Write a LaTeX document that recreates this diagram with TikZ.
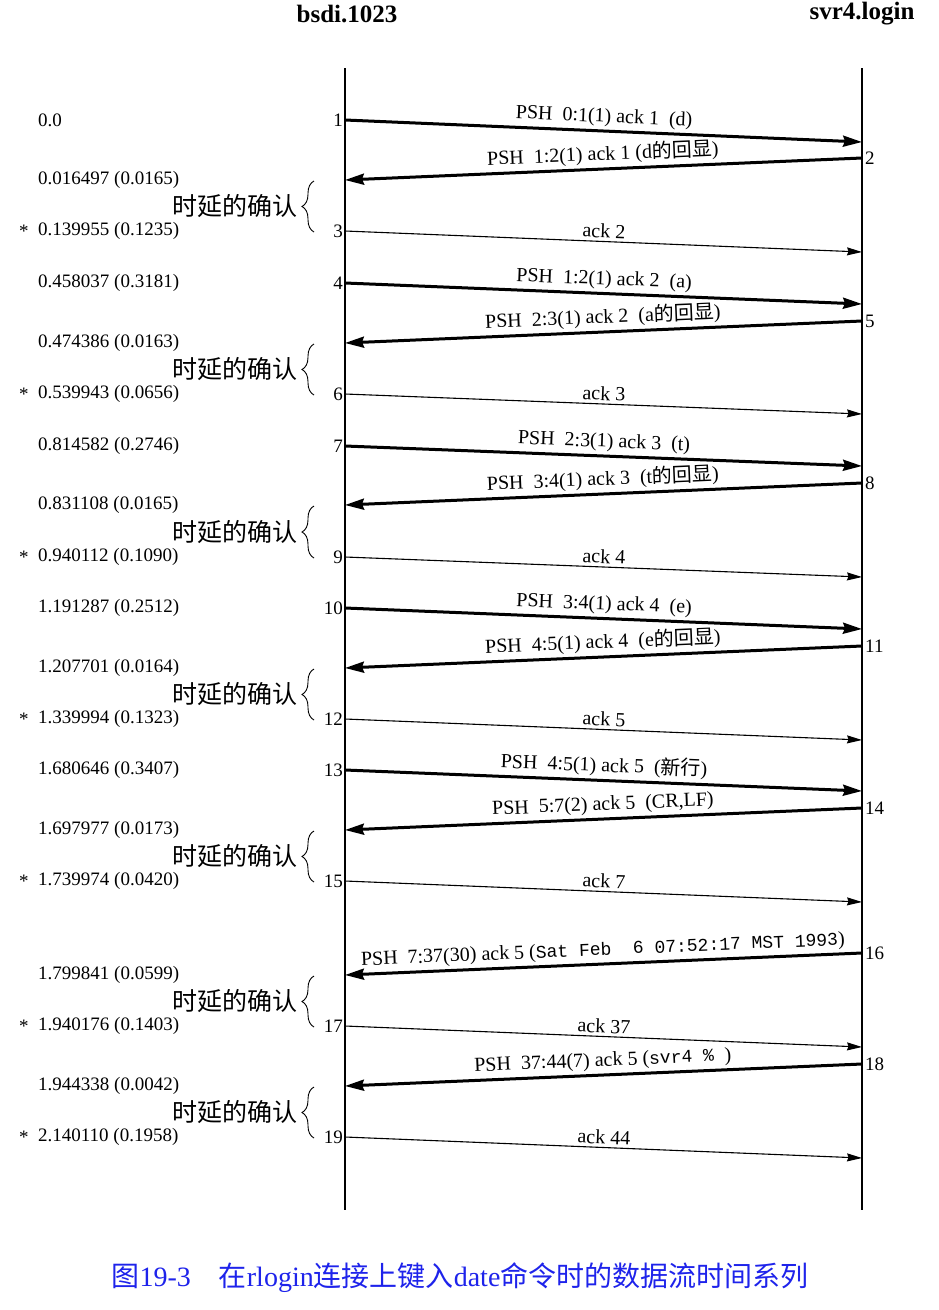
\documentclass[tikz,border=0pt]{standalone}
\usepackage{fontspec}
\setmainfont{Liberation Serif}
\setmonofont{Liberation Mono}
\newfontfamily\cjk{Noto Sans CJK SC}
\usetikzlibrary{arrows.meta,decorations.pathreplacing}
\definecolor{capblue}{RGB}{30,35,235}
\begin{document}
\begin{tikzpicture}[x=1pt,y=-1pt,
  lifeline/.style={line width=1.4pt},
  thickmsg/.style={line width=3pt,-{Stealth[length=19pt,width=11pt,inset=2pt]}},
  thinmsg/.style={line width=1.1pt,-{Stealth[length=15pt,width=8pt,inset=1.5pt]}},
  msglabel/.style={midway,above,sloped,inner sep=3pt,font=\fontsize{20}{22}\selectfont},
  timel/.style={anchor=west,inner sep=0pt,font=\fontsize{19}{21}\selectfont},
  starl/.style={anchor=west,inner sep=0pt,font=\fontsize{19}{21}\selectfont},
  segL/.style={anchor=east,inner sep=2pt,font=\fontsize{19}{21}\selectfont},
  segR/.style={anchor=west,inner sep=3pt,font=\fontsize{19}{21}\selectfont},
  delayl/.style={anchor=east,inner sep=0pt,font=\cjk\fontsize{25}{27}\selectfont},
  brc/.style={decorate,decoration={brace,amplitude=12pt},line width=0.9pt},
  hostl/.style={inner sep=0pt,font=\bfseries\fontsize{25}{27}\selectfont},
  caption/.style={inner sep=0pt,text=capblue,font=\fontsize{28}{30}\selectfont}
]
\useasboundingbox[fill=white] (0,0) rectangle (938,1310);

% hosts
\node[hostl] (hA) at (347,14) {bsdi.1023};
\node[hostl] (hB) at (862,14) {svr4.login};

% lifelines
\coordinate (LT) at (345,68); \coordinate (LB) at (345,1210);
\coordinate (RT) at (862,68); \coordinate (RB) at (862,1210);
\draw[lifeline] (LT) -- (LB);
\draw[lifeline] (RT) -- (RB);

% coordinates of segment ends
\coordinate (L1) at (345,120);  \coordinate (R1) at (862,142);
\coordinate (R2) at (862,158);  \coordinate (L2) at (345,180);
\coordinate (L3) at (345,231);  \coordinate (R3) at (862,252);
\coordinate (L4) at (345,283);  \coordinate (R4) at (862,304);
\coordinate (R5) at (862,321);  \coordinate (L5) at (345,343);
\coordinate (L6) at (345,394);  \coordinate (R6) at (862,414);
\coordinate (L7) at (345,446);  \coordinate (R7) at (862,466);
\coordinate (R8) at (862,483);  \coordinate (L8) at (345,505);
\coordinate (L9) at (345,557);  \coordinate (R9) at (862,577);
\coordinate (L10) at (345,608); \coordinate (R10) at (862,629);
\coordinate (R11) at (862,646); \coordinate (L11) at (345,668);
\coordinate (L12) at (345,719); \coordinate (R12) at (862,740);
\coordinate (L13) at (345,770); \coordinate (R13) at (862,791);
\coordinate (R14) at (862,808); \coordinate (L14) at (345,830);
\coordinate (L15) at (345,881); \coordinate (R15) at (862,902);
\coordinate (R16) at (862,953); \coordinate (L16) at (345,975);
\coordinate (L17) at (345,1026);\coordinate (R17) at (862,1047);
\coordinate (R18) at (862,1064);\coordinate (L18) at (345,1086);
\coordinate (L19) at (345,1137);\coordinate (R19) at (862,1158);

% messages
\draw[thickmsg] (L1) -- (R1) node[msglabel] (m1) {PSH\enspace 0:1(1) ack 1\enspace (d)};
\draw[thickmsg] (R2) -- (L2) node[msglabel] (m2) {PSH\enspace 1:2(1) ack 1 (d{\cjk 的回显})};
\draw[thinmsg]  (L3) -- (R3) node[msglabel] (m3) {ack 2};
\draw[thickmsg] (L4) -- (R4) node[msglabel] (m4) {PSH\enspace 1:2(1) ack 2\enspace (a)};
\draw[thickmsg] (R5) -- (L5) node[msglabel] (m5) {PSH\enspace 2:3(1) ack 2\enspace (a{\cjk 的回显})};
\draw[thinmsg]  (L6) -- (R6) node[msglabel] (m6) {ack 3};
\draw[thickmsg] (L7) -- (R7) node[msglabel] (m7) {PSH\enspace 2:3(1) ack 3\enspace (t)};
\draw[thickmsg] (R8) -- (L8) node[msglabel] (m8) {PSH\enspace 3:4(1) ack 3\enspace (t{\cjk 的回显})};
\draw[thinmsg]  (L9) -- (R9) node[msglabel] (m9) {ack 4};
\draw[thickmsg] (L10) -- (R10) node[msglabel] (m10) {PSH\enspace 3:4(1) ack 4\enspace (e)};
\draw[thickmsg] (R11) -- (L11) node[msglabel] (m11) {PSH\enspace 4:5(1) ack 4\enspace (e{\cjk 的回显})};
\draw[thinmsg]  (L12) -- (R12) node[msglabel] (m12) {ack 5};
\draw[thickmsg] (L13) -- (R13) node[msglabel] (m13) {PSH\enspace 4:5(1) ack 5\enspace ({\cjk 新行})};
\draw[thickmsg] (R14) -- (L14) node[msglabel] (m14) {PSH\enspace 5:7(2) ack 5\enspace (CR,LF)};
\draw[thinmsg]  (L15) -- (R15) node[msglabel] (m15) {ack 7};
\draw[thickmsg] (R16) -- (L16) node[msglabel] (m16) {PSH\enspace 7:37(30) ack 5 ({\fontsize{18}{20}\selectfont\ttfamily Sat Feb~~6 07:52:17 MST 1993})};
\draw[thinmsg]  (L17) -- (R17) node[msglabel] (m17) {ack 37};
\draw[thickmsg] (R18) -- (L18) node[msglabel] (m18) {PSH\enspace 37:44(7) ack 5 ({\fontsize{18}{20}\selectfont\ttfamily svr4 \% })};
\draw[thinmsg]  (L19) -- (R19) node[msglabel] (m19) {ack 44};

% segment numbers
\node[segL] (s1) at (L1) {1};
\node[segR] (s2) at (R2) {2};
\node[segL] (s3) at (L3) {3};
\node[segL] (s4) at (L4) {4};
\node[segR] (s5) at (R5) {5};
\node[segL] (s6) at (L6) {6};
\node[segL] (s7) at (L7) {7};
\node[segR] (s8) at (R8) {8};
\node[segL] (s9) at (L9) {9};
\node[segL] (s10) at (L10) {10};
\node[segR] (s11) at (R11) {11};
\node[segL] (s12) at (L12) {12};
\node[segL] (s13) at (L13) {13};
\node[segR] (s14) at (R14) {14};
\node[segL] (s15) at (L15) {15};
\node[segR] (s16) at (R16) {16};
\node[segL] (s17) at (L17) {17};
\node[segR] (s18) at (R18) {18};
\node[segL] (s19) at (L19) {19};

% time labels
\node[timel] (t1) at (38,120) {0.0};
\node[timel] (t2) at (38,180) {0.016497 (0.0165)};
\node[starl] (x3) at (19,231) {*};
\node[timel] (t3) at (38,231) {0.139955 (0.1235)};
\node[timel] (t4) at (38,283) {0.458037 (0.3181)};
\node[timel] (t5) at (38,343) {0.474386 (0.0163)};
\node[starl] (x6) at (19,394) {*};
\node[timel] (t6) at (38,394) {0.539943 (0.0656)};
\node[timel] (t7) at (38,446) {0.814582 (0.2746)};
\node[timel] (t8) at (38,505) {0.831108 (0.0165)};
\node[starl] (x9) at (19,557) {*};
\node[timel] (t9) at (38,557) {0.940112 (0.1090)};
\node[timel] (t10) at (38,608) {1.191287 (0.2512)};
\node[timel] (t11) at (38,668) {1.207701 (0.0164)};
\node[starl] (x12) at (19,719) {*};
\node[timel] (t12) at (38,719) {1.339994 (0.1323)};
\node[timel] (t13) at (38,770) {1.680646 (0.3407)};
\node[timel] (t14) at (38,830) {1.697977 (0.0173)};
\node[starl] (x15) at (19,881) {*};
\node[timel] (t15) at (38,881) {1.739974 (0.0420)};
\node[timel] (t16) at (38,975) {1.799841 (0.0599)};
\node[starl] (x17) at (19,1026) {*};
\node[timel] (t17) at (38,1026) {1.940176 (0.1403)};
\node[timel] (t18) at (38,1086) {1.944338 (0.0042)};
\node[starl] (x19) at (19,1137) {*};
\node[timel] (t19) at (38,1137) {2.140110 (0.1958)};

% delayed ack braces
\foreach \a/\b/\k in {181/232/1,344/395/2,506/558/3,669/720/4,831/882/5,976/1027/6,1087/1138/7}{
  \coordinate (bt\k) at (314,\a);
  \coordinate (bb\k) at (314,\b);
  \draw[brc] (bb\k) -- (bt\k);
  \node[delayl] (d\k) at (298,{(\a+\b)/2}) {时延的确认};
}

% caption
\node[caption] (cap) at (460,1278) {{\cjk 图}19-3\hspace{1em}{\cjk 在}rlogin{\cjk 连接上键入}date{\cjk 命令时的数据流时间系列}};
\end{tikzpicture}
\end{document}
